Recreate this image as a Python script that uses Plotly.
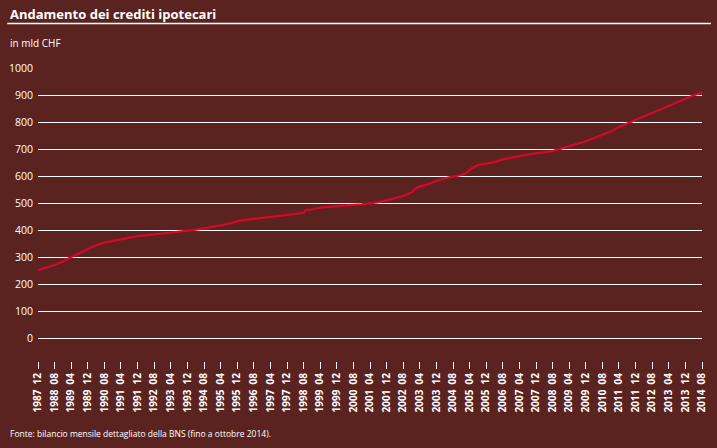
import plotly.graph_objects as go

# Data (mld CHF)
dates = [
    "1987-12", "1988-04", "1988-08", "1988-12", "1989-04", "1989-08", "1989-12",
    "1990-04", "1990-08", "1990-12", "1991-04", "1991-08", "1991-12", "1992-04",
    "1992-08", "1992-12", "1993-04", "1993-08", "1993-12", "1994-04", "1994-08",
    "1994-12", "1995-04", "1995-08", "1995-12", "1996-04", "1996-08", "1996-12",
    "1997-04", "1997-08", "1997-12", "1998-04", "1998-08", "1998-09", "1998-12",
    "1999-04", "1999-08", "1999-12", "2000-04", "2000-08", "2000-12", "2001-04",
    "2001-08", "2001-12", "2002-04", "2002-08", "2002-12", "2003-02", "2003-04",
    "2003-08", "2003-12", "2004-04", "2004-08", "2004-12", "2005-02", "2005-05",
    "2005-08", "2005-12", "2006-04", "2006-08", "2006-12", "2007-04", "2007-08",
    "2007-12", "2008-04", "2008-08", "2008-12", "2009-04", "2009-08", "2009-12",
    "2010-04", "2010-08", "2010-12", "2011-04", "2011-08", "2011-12", "2012-04",
    "2012-08", "2012-12", "2013-04", "2013-08", "2013-12", "2014-04", "2014-08",
    "2014-10",
]
values = [
    253, 262, 272, 285, 302, 316, 330,
    345, 355, 362, 368, 374, 379, 383,
    386, 389, 392, 395, 399, 403, 408,
    414, 419, 425, 434, 440, 443, 447,
    451, 455, 458, 462, 465, 477, 478,
    485, 488, 491, 493, 495, 497, 500,
    505, 512, 520, 528, 542, 556, 563,
    572, 584, 594, 600, 606, 612, 630,
    643, 649, 654, 664, 670, 676, 681,
    687, 690, 695, 704, 714, 722, 731,
    743, 755, 767, 784, 797, 811, 824,
    836, 850, 864, 877, 890, 902, 912,
    915,
]

# X tick positions (every 8 months)
tick_dates = []
y, m = 1987, 12
while (y, m) <= (2014, 8):
    tick_dates.append(f"{y}-{m:02d}")
    m += 8
    while m > 12:
        m -= 12
        y += 1
tick_text = [d.replace("-", "\u00a0\u00a0") for d in tick_dates]

y_ticks = list(range(0, 1001, 100))

BG = "#5b2320"
FONT = "Open Sans"

fig = go.Figure()
fig.add_trace(go.Scatter(
    x=[d + "-01" for d in dates], y=values, mode="lines",
    line=dict(color="#d6082a", width=2.2), hoverinfo="skip",
))

fig.update_layout(
    width=717, height=448,
    paper_bgcolor=BG, plot_bgcolor=BG,
    margin=dict(l=38, r=9, t=67.5, b=87),
    showlegend=False,
    font=dict(family=FONT, color="white"),
    xaxis=dict(
        type="date",
        range=["1987-12-01", "2014-08-01"],
        tickvals=[d + "-01" for d in tick_dates],
        ticktext=tick_text,
        tickangle=-90,
        ticks="outside", ticklen=7, tickwidth=1.2, tickcolor="white",
        tickfont=dict(size=10, color="white", family=FONT, weight="bold"),
        showgrid=False, zeroline=False, showline=False,
    ),
    yaxis=dict(
        range=[-84, 1003],
        tickvals=y_ticks,
        tickfont=dict(size=10.5, color="white", family=FONT),
        showgrid=True, gridcolor="white", gridwidth=1.3,
        zeroline=False, showline=False, ticks="",
        ticklabelstandoff=4,
    ),
    shapes=[dict(
        type="line", xref="paper", yref="paper",
        x0=(7 - 38) / 670, x1=(717 - 38) / 670,
        y0=(361 - 23) / 293.5, y1=(361 - 23) / 293.5,
        line=dict(color="white", width=1.5),
    )],
    annotations=[
        dict(text="<b>Andamento dei crediti ipotecari</b>", xref="paper", yref="paper",
             x=(8 - 38) / 670, y=(361 - 13) / 293.5, xanchor="left", yanchor="middle",
             showarrow=False, font=dict(size=13, color="white", family=FONT)),
        dict(text="in mld CHF", xref="paper", yref="paper",
             x=(8 - 38) / 670, y=(361 - 42.5) / 293.5, xanchor="left", yanchor="middle",
             showarrow=False, font=dict(size=10, color="white", family=FONT)),
        dict(text="Fonte: bilancio mensile dettagliato della BNS (fino a ottobre 2014).",
             xref="paper", yref="paper",
             x=(8 - 38) / 670, y=(361 - 434) / 293.5, xanchor="left", yanchor="middle",
             showarrow=False, font=dict(size=8.5, color="white", family=FONT)),
    ],
)

fig.write_html("out.html",
               config={"displayModeBar": False},
               post_script="document.body.style.margin='0';document.body.style.overflow='hidden';")
